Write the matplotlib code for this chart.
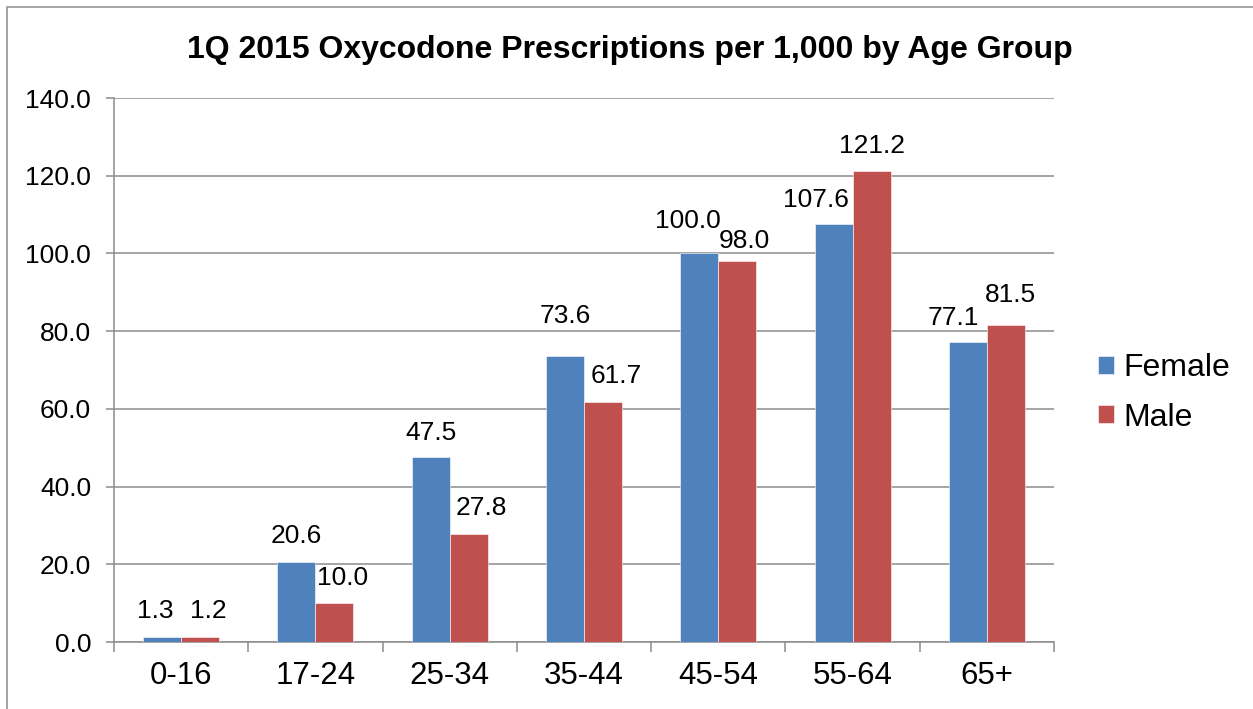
import matplotlib
matplotlib.use("Agg")
import matplotlib.pyplot as plt
import numpy as np
from matplotlib.patches import Rectangle

categories = ["0-16", "17-24", "25-34", "35-44", "45-54", "55-64", "65+"]
female = [1.3, 20.6, 47.5, 73.6, 100.0, 107.6, 77.1]
male = [1.2, 10.0, 27.8, 61.7, 98.0, 121.2, 81.5]
yticks = [0, 20, 40, 60, 80, 100, 120, 140]
title = "1Q 2015 Oxycodone Prescriptions per 1,000 by Age Group"

# label placement nudges in pixels (mimicking Excel's label positions)
female_dx = [-6.5, 0, 0, 0, -11, -18, -15]
female_dy = [19, 19, 17, 33, 25, 17, 17]
male_dx = [8, 8, 13, 13, 7, 0, 5]
male_dy = [19, 18, 19, 19, 13, 18, 23]

plt.rcParams['font.family'] = ['Liberation Sans', 'DejaVu Sans']

W, H = 1253, 709
fig = plt.figure(figsize=(W / 100, H / 100), dpi=100)
ax = fig.add_axes([114 / W, 1 - 642 / H, (1054 - 114) / W, (642 - 98) / H])

# outer chart border
fig.patches.append(Rectangle((7 / W, -0.05), 1.2, 1 - 7 / H + 0.05, transform=fig.transFigure,
                             fill=False, edgecolor='#8c8c8c', linewidth=1.1))

x = np.arange(len(categories))
bw = 0.283
blue = '#4F81BD'
red = '#C0504D'
bf = ax.bar(x - bw / 2, female, bw, color=blue, label='Female', edgecolor='white', linewidth=0.4, zorder=3)
bm = ax.bar(x + bw / 2, male, bw, color=red, label='Male', edgecolor='white', linewidth=0.4, zorder=3)

for i, v in enumerate(female):
    ax.annotate(f"{v:.1f}", (x[i] - bw / 2, v), xytext=(female_dx[i], female_dy[i]),
                textcoords='offset pixels', ha='center', va='baseline', fontsize=19, zorder=4)
for i, v in enumerate(male):
    ax.annotate(f"{v:.1f}", (x[i] + bw / 2, v), xytext=(male_dx[i], male_dy[i]),
                textcoords='offset pixels', ha='center', va='baseline', fontsize=19, zorder=4)

ax.set_xlim(-0.5, len(categories) - 0.5)
ax.set_ylim(0, 140)
ax.set_yticks(yticks)
ax.set_yticklabels([f"{t:.1f}" for t in yticks], fontsize=19)
ax.yaxis.grid(True, color='#8c8c8c', linewidth=1.1, zorder=0)
ax.set_axisbelow(True)

ax.set_xticks(x)
ax.set_xticklabels(categories, fontsize=22.5)
ax.set_xticks(np.arange(-0.5, len(categories)), minor=True)
ax.tick_params(axis='x', which='major', length=0, pad=14)
ax.tick_params(axis='x', which='minor', length=7, width=1.1, color='#8c8c8c', direction='out')
ax.tick_params(axis='y', which='major', length=6, width=1.1, color='#8c8c8c', pad=10.5)

for s in ['top', 'right']:
    ax.spines[s].set_visible(False)
for s in ['left', 'bottom']:
    ax.spines[s].set_color('#8c8c8c')
    ax.spines[s].set_linewidth(1.1)

fig.text(0.503, 1 - 50 / H, title, ha='center', va='center', fontsize=23, fontweight='bold')

leg = fig.legend(handles=[bf, bm], labels=['Female', 'Male'], loc='center left',
                 bbox_to_anchor=(1069 / W, 1 - 393 / H), frameon=False, fontsize=23,
                 handlelength=0.5, handleheight=0.5, handletextpad=0.3, labelspacing=0.6)

fig.savefig("out.png", dpi=100)
